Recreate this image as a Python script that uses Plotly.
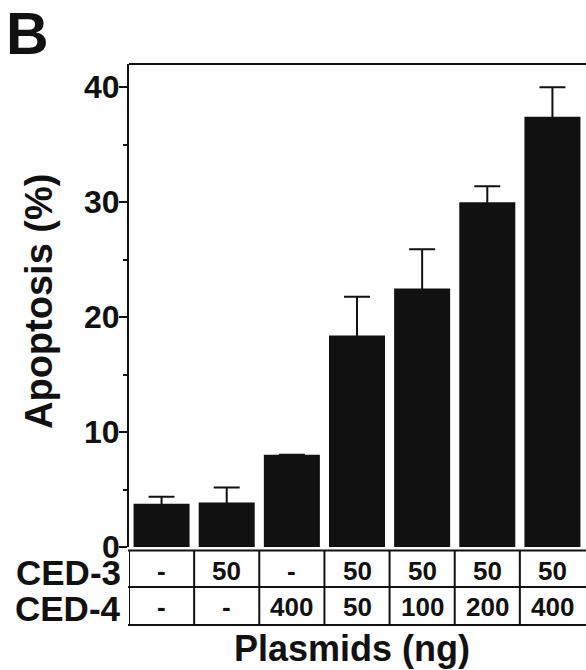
import plotly.graph_objects as go

# Apoptosis after co-transfection of CED-3 / CED-4 plasmids
apoptosis = [3.77, 3.88, 8.03, 18.4, 22.5, 30.0, 37.44]
error_sem = [0.6, 1.3, 0.0, 3.37, 3.4, 1.4, 2.56]
ced3 = ["-", "50", "-", "50", "50", "50", "50"]
ced4 = ["-", "-", "400", "50", "100", "200", "400"]
row_labels = ["CED-3", "CED-4"]
y_ticks = [0, 10, 20, 30, 40]

W, H = 586, 670
ML, MR, MT, MB = 129, 1, 64, 123
PW, PH = W - ML - MR, H - MT - MB

FONT = "Liberation Sans, Arial, Helvetica, sans-serif"
INK = "#111111"


def px_x(px):
    return (px - ML) / PW


def px_y(py):
    return (H - MB - py) / PH


cats = list(range(len(apoptosis)))

# symmetric SEM bars: the lower whisker stays hidden inside the black bar
fig = go.Figure(
    go.Bar(
        x=cats,
        y=apoptosis,
        marker=dict(color=INK, line=dict(width=0)),
        error_y=dict(
            type="data",
            symmetric=True,
            array=error_sem,
            color=INK,
            thickness=2,
            width=13,
        ),
        hoverinfo="skip",
    )
)

fig.update_layout(
    width=W,
    height=H,
    margin=dict(l=ML, r=MR, t=MT, b=MB, pad=0),
    paper_bgcolor="white",
    plot_bgcolor="white",
    bargap=0.14,
    showlegend=False,
    font=dict(family=FONT, color=INK),
)

fig.update_xaxes(
    range=[-0.5, len(cats) - 0.5],
    showticklabels=False,
    ticks="",
    showgrid=False,
    zeroline=False,
    showline=False,
)

fig.update_yaxes(
    range=[0, 42.03],
    tickvals=y_ticks,
    showticklabels=False,
    ticks="outside",
    ticklen=8,
    tickwidth=2,
    tickcolor=INK,
    minor=dict(dtick=5, ticks="outside", ticklen=4, tickwidth=2, tickcolor=INK),
    showgrid=False,
    zeroline=False,
    showline=True,
    linecolor=INK,
    linewidth=2,
)

shapes = []
# top frame line
shapes.append(dict(type="line", xref="paper", yref="paper", x0=0, x1=1.01,
                   y0=1, y1=1, line=dict(color=INK, width=2)))

# plasmid table below the bars
t_top, t_mid, t_bot = 550.5, 587, 625
for py in (t_top, t_mid, t_bot):
    shapes.append(dict(type="line", xref="paper", yref="paper",
                       x0=px_x(ML - 1), x1=1.01, y0=px_y(py), y1=px_y(py),
                       line=dict(color=INK, width=2)))
for i in range(len(cats)):
    shapes.append(dict(type="line", xref="x", yref="paper",
                       x0=i - 0.5, x1=i - 0.5, y0=px_y(t_top), y1=px_y(t_bot),
                       line=dict(color=INK, width=2)))

annotations = []
# y tick labels set flush against the tick marks
for v in y_ticks:
    annotations.append(dict(text=str(v), xref="paper", yref="y",
                            x=px_x(122), y=v, xanchor="right", yanchor="middle",
                            showarrow=False,
                            font=dict(family=FONT, size=32, color=INK, weight="bold")))

row_y = [572, 608.5]
for label, ry in zip(row_labels, row_y):
    annotations.append(dict(text=label, xref="paper", yref="paper",
                            x=px_x(123), y=px_y(ry), xanchor="right", yanchor="middle",
                            showarrow=False,
                            font=dict(family=FONT, size=35, color=INK, weight="bold")))
for row, ry in zip((ced3, ced4), row_y):
    for i, val in enumerate(row):
        annotations.append(dict(text=val, xref="x", yref="paper",
                                x=i, y=px_y(ry - 1.5), xanchor="center", yanchor="middle",
                                showarrow=False,
                                font=dict(family=FONT, size=26, color=INK, weight="bold")))

annotations.append(dict(text="Plasmids (ng)", xref="paper", yref="paper",
                        x=px_x(352), y=px_y(648), xanchor="center", yanchor="middle",
                        showarrow=False,
                        font=dict(family=FONT, size=36, color=INK, weight="bold")))
annotations.append(dict(text="Apoptosis (%)", xref="paper", yref="paper",
                        x=px_x(39), y=px_y(302), xanchor="center", yanchor="middle",
                        textangle=-90, showarrow=False,
                        font=dict(family=FONT, size=38, color=INK, weight="bold")))
annotations.append(dict(text="B", xref="paper", yref="paper",
                        x=px_x(4), y=px_y(34), xanchor="left", yanchor="middle",
                        showarrow=False,
                        font=dict(family=FONT, size=59, color=INK, weight="bold")))

fig.update_layout(shapes=shapes, annotations=annotations)

fig.write_html("out.html")
